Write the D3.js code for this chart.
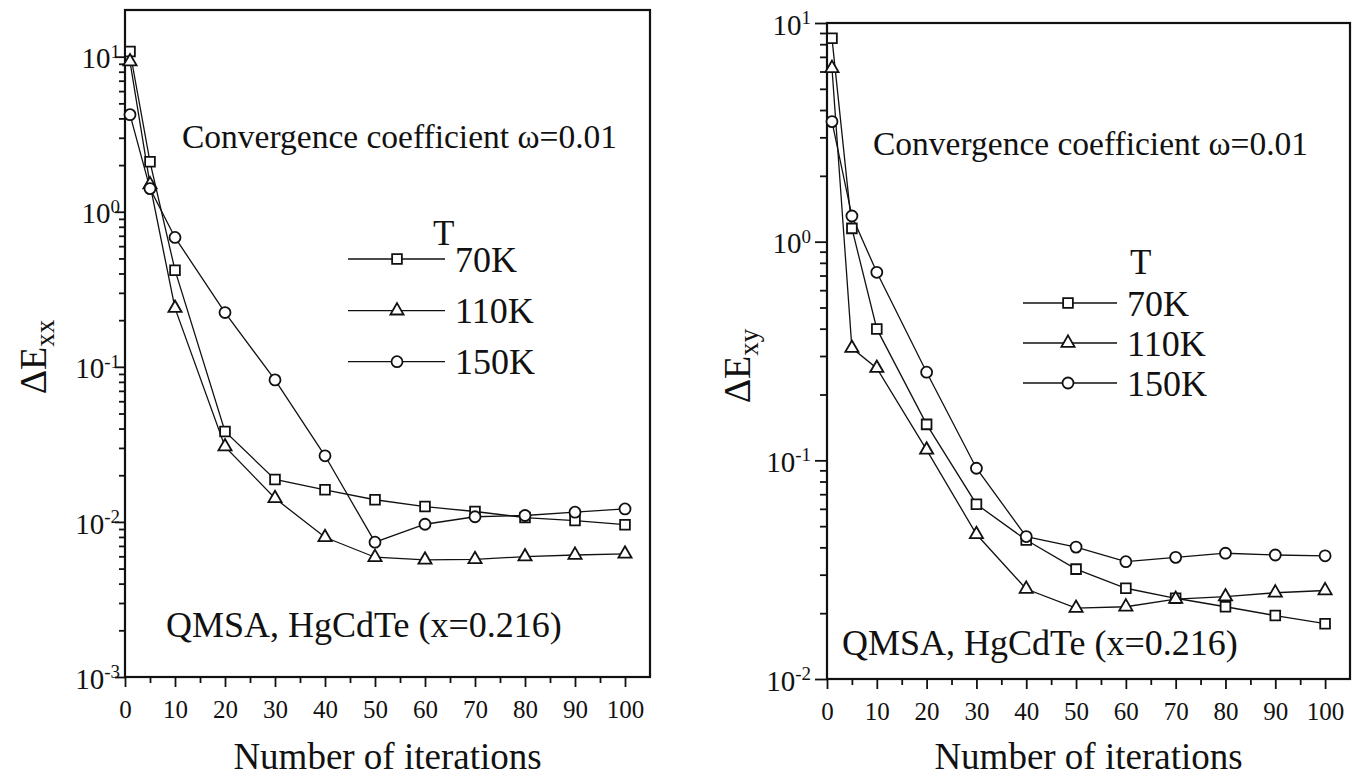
<!DOCTYPE html>
<html>
<head>
<meta charset="utf-8">
<script src="https://cdn.jsdelivr.net/npm/d3@7"></script>
<style>
  body { margin: 0; background: #fff; }
  text { font-family: "Liberation Serif", "Times New Roman", serif; fill: #111; }
</style>
</head>
<body>
<svg id="chart" width="1358" height="777"></svg>
<script>
// data
const iterations = [1, 5, 10, 20, 30, 40, 50, 60, 70, 80, 90, 100];
const tempLabels = ['70K', '110K', '150K'];
const xTicks = [0, 10, 20, 30, 40, 50, 60, 70, 80, 90, 100];
const xMinorTicks = [5, 15, 25, 35, 45, 55, 65, 75, 85, 95];

const exx70K  = [10.8, 2.1, 0.42, 0.0383, 0.0188, 0.0161, 0.0139, 0.01256, 0.01167, 0.01067, 0.0102, 0.0096];
const exx110K = [9.3, 1.5, 0.239, 0.0306, 0.0142, 0.00796, 0.00592, 0.00569, 0.00574, 0.00597, 0.00612, 0.00622];
const exx150K = [4.23, 1.41, 0.683, 0.224, 0.0824, 0.0267, 0.0074, 0.00966, 0.0108, 0.011, 0.01156, 0.01213];

const exy70K  = [8.51, 1.15, 0.399, 0.146, 0.063, 0.0432, 0.0318, 0.026, 0.0234, 0.0214, 0.0195, 0.0179];
const exy110K = [6.21, 0.326, 0.264, 0.1116, 0.0459, 0.0258, 0.0211, 0.0214, 0.0232, 0.0238, 0.0248, 0.0254];
const exy150K = [3.54, 1.31, 0.724, 0.253, 0.092, 0.0448, 0.0401, 0.0344, 0.036, 0.0376, 0.0369, 0.0366];

const exxTickExps = [1, 0, -1, -2, -3];
const exyTickExps = [1, 0, -1, -2];

const symbols = [d3.symbolSquare, d3.symbolTriangle, d3.symbolCircle];
const symbolSizes = [95, 75, 95];
const FONT = '"Liberation Serif", "Times New Roman", serif';

const svg = d3.select('#chart');

function drawPanel(p) {
  const x = d3.scaleLinear().domain([0, 105]).range([p.left, p.right]);
  const y = d3.scaleLog().domain(p.yDomain).range([p.bottom, p.top]);
  const g = svg.append('g');

  const majorY = p.exps.map(e => Math.pow(10, e));
  const minorY = [];
  p.exps.forEach(e => {
    for (let m = 2; m <= 9; m++) {
      const v = m * Math.pow(10, e);
      if (v < p.yDomain[1]) minorY.push(v);
    }
  });

  // y axis ticks (outward)
  g.append('g')
    .attr('transform', 'translate(' + p.left + ',0)')
    .call(d3.axisLeft(y).tickValues(majorY).tickSize(p.majorTick).tickFormat(''))
    .call(a => a.select('.domain').remove());
  g.append('g')
    .attr('transform', 'translate(' + p.left + ',0)')
    .call(d3.axisLeft(y).tickValues(minorY).tickSize(p.minorTick).tickFormat(''))
    .call(a => a.select('.domain').remove());

  // x axis ticks
  g.append('g')
    .attr('class', 'xaxis')
    .attr('transform', 'translate(0,' + p.bottom + ')')
    .attr('font-family', FONT)
    .call(d3.axisBottom(x).tickValues(xTicks).tickSize(10).tickPadding(13))
    .call(a => a.select('.domain').remove());
  g.append('g')
    .attr('transform', 'translate(0,' + p.bottom + ')')
    .call(d3.axisBottom(x).tickValues(xMinorTicks).tickSize(6).tickFormat(''))
    .call(a => a.select('.domain').remove());

  g.selectAll('.tick line').attr('stroke', '#111').attr('stroke-width', 1.8);
  g.selectAll('.xaxis text')
    .attr('font-size', 25)
    .attr('fill', '#111')
    .style('font-family', FONT);

  // y tick labels with superscript exponents
  p.exps.forEach(e => {
    const t = g.append('text')
      .attr('x', p.supEnd)
      .attr('y', y(Math.pow(10, e)))
      .attr('dy', '0.4em')
      .attr('text-anchor', 'end')
      .attr('font-size', 29)
      .text('10');
    t.append('tspan')
      .attr('dy', '-0.55em')
      .attr('font-size', 19)
      .text(e);
  });

  // frame
  g.append('rect')
    .attr('x', p.left).attr('y', p.top)
    .attr('width', p.right - p.left).attr('height', p.bottom - p.top)
    .attr('fill', 'none').attr('stroke', '#111').attr('stroke-width', 2.2);

  const line = d3.line()
    .x((d, i) => x(iterations[i]))
    .y(d => y(d));

  p.series.forEach(s => {
    g.append('path')
      .datum(s)
      .attr('d', line)
      .attr('fill', 'none')
      .attr('stroke', '#111')
      .attr('stroke-width', 1.3);
  });

  p.series.forEach((s, k) => {
    g.selectAll('.m' + k)
      .data(s)
      .enter()
      .append('path')
      .attr('class', 'm' + k)
      .attr('transform', (d, i) => 'translate(' + x(iterations[i]) + ',' + y(d) + ')')
      .attr('d', d3.symbol().type(symbols[k]).size(symbolSizes[k]))
      .attr('fill', '#fff')
      .attr('stroke', '#111')
      .attr('stroke-width', 1.8);
  });

  // legend
  g.append('text')
    .attr('x', p.legend.tX).attr('y', p.legend.tY)
    .attr('font-size', 35)
    .text('T');
  tempLabels.forEach((lab, k) => {
    const ry = p.legend.rows[k];
    g.append('line')
      .attr('x1', p.legend.x0).attr('x2', p.legend.x1)
      .attr('y1', ry).attr('y2', ry)
      .attr('stroke', '#111').attr('stroke-width', 1.3);
    g.append('path')
      .attr('transform', 'translate(' + p.legend.xm + ',' + ry + ')')
      .attr('d', d3.symbol().type(symbols[k]).size(symbolSizes[k]))
      .attr('fill', '#fff').attr('stroke', '#111').attr('stroke-width', 1.8);
    g.append('text')
      .attr('x', p.legend.textX).attr('y', ry)
      .attr('dy', '0.35em')
      .attr('font-size', 36)
      .text(lab);
  });

  // annotations
  g.append('text')
    .attr('x', p.convX).attr('y', p.convY)
    .attr('font-size', 33.5)
    .text('Convergence coefficient \u03c9=0.01');
  g.append('text')
    .attr('x', p.qmsaX).attr('y', p.qmsaY)
    .attr('font-size', 36)
    .text('QMSA, HgCdTe (x=0.216)');

  // axis titles
  g.append('text')
    .attr('x', (p.left + p.right) / 2).attr('y', 769)
    .attr('text-anchor', 'middle')
    .attr('font-size', 37)
    .text('Number of iterations');

  const yt = g.append('text')
    .attr('transform', 'translate(' + p.yTitleX + ',' + p.yTitleY + ') rotate(-90)')
    .attr('text-anchor', 'middle')
    .attr('font-size', 38)
    .text('\u0394E');
  yt.append('tspan')
    .attr('dy', '0.3em')
    .attr('font-size', 27)
    .text(p.sub);
}

drawPanel({
  left: 125, right: 650, top: 10, bottom: 677,
  yDomain: [1e-3, 20], exps: exxTickExps,
  majorTick: 10, minorTick: 6, supEnd: 120,
  series: [exx70K, exx110K, exx150K],
  legend: { tX: 433, tY: 245, rows: [259, 310.7, 361.7], x0: 348, x1: 445, xm: 397, textX: 455 },
  convX: 182, convY: 148,
  qmsaX: 166, qmsaY: 637,
  yTitleX: 46, yTitleY: 357, sub: 'xx'
});

drawPanel({
  left: 827, right: 1350, top: 23, bottom: 679,
  yDomain: [1e-2, 10], exps: exyTickExps,
  majorTick: 12, minorTick: 7, supEnd: 811,
  series: [exy70K, exy110K, exy150K],
  legend: { tX: 1130, tY: 274, rows: [303, 343, 383], x0: 1023, x1: 1117, xm: 1068, textX: 1127 },
  convX: 873, convY: 155,
  qmsaX: 842, qmsaY: 655,
  yTitleX: 750, yTitleY: 366, sub: 'xy'
});
</script>
</body>
</html>
